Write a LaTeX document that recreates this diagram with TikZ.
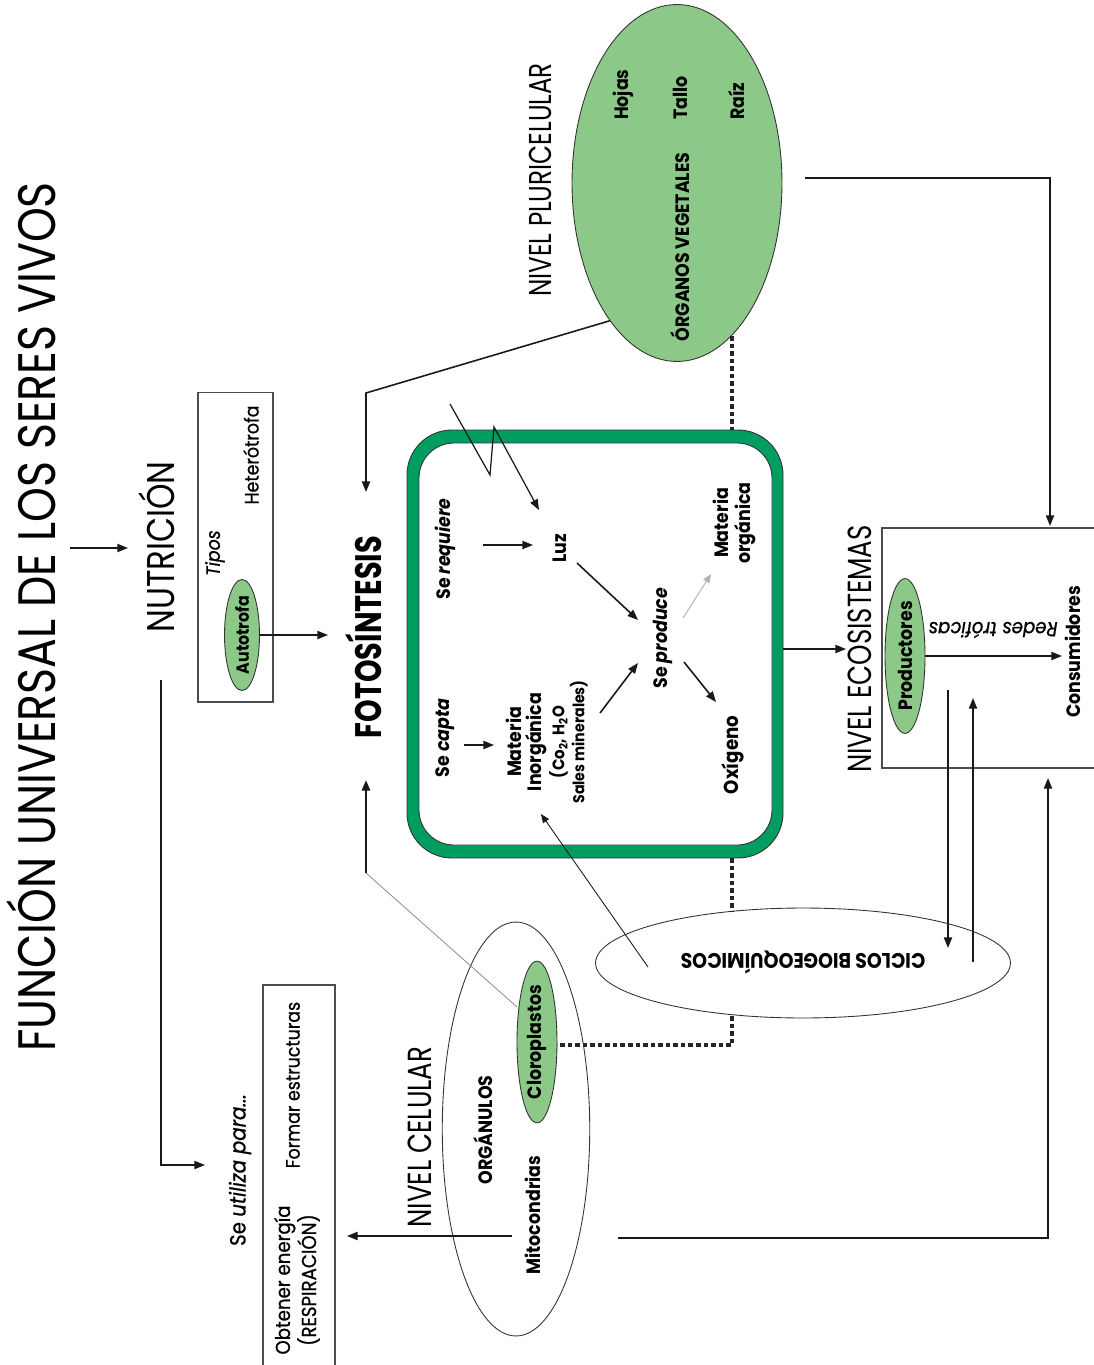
\documentclass[tikz,border=0pt]{standalone}
\usepackage{fontspec}
\setmainfont{Poppins}[FakeStretch=0.9]
\newfontfamily\medfont{Poppins}[FakeStretch=0.9, FakeBold=0.8]
\newfontfamily\headfont{Poppins}[FakeStretch=0.78]
\newfontfamily\titlefont{Poppins}[FakeStretch=0.84]
\usetikzlibrary{shapes.geometric,arrows.meta}
\definecolor{boxgreen}{RGB}{0,157,97}
\definecolor{lightgreen}{RGB}{140,201,136}
\tikzset{
  lbl/.style={rotate=90, inner sep=1pt, align=center, font=\bfseries\fontsize{11}{12.5}\selectfont},
  plain/.style={rotate=90, inner sep=1pt, align=center, font=\medfont\fontsize{11}{13}\selectfont},
  head/.style={rotate=90, inner sep=1pt, font=\headfont\fontsize{19}{22}\selectfont},
  arr/.style={-{Triangle[length=6pt,width=4.6pt]}, line width=0.9pt, draw=black!90},
  thinarr/.style={-{Triangle[length=5pt,width=4pt]}, line width=0.5pt, draw=black!90},
  dashline/.style={line width=2pt, draw=black!85, dash pattern=on 2.6pt off 1.7pt},
  frame/.style={draw=black!70, line width=0.6pt},
  greenell/.style={ellipse, draw=black!80, line width=0.5pt, fill=lightgreen, inner sep=0pt},
  whiteell/.style={ellipse, draw=black!80, line width=0.5pt, inner sep=0pt}
}
\begin{document}
\begin{tikzpicture}[x=0.02cm,y=-0.02cm]
\useasboundingbox (0,0) rectangle (1093,1365);

% title and nutrition
\node[rotate=90, inner sep=0pt, font=\titlefont\fontsize{30}{36}\selectfont] (title) at (31,617) {FUNCIÓN UNIVERSAL DE LOS SERES VIVOS};
\node[rotate=90, inner sep=1pt, font=\titlefont\fontsize{22}{26}\selectfont] (nutr) at (157,547) {NUTRICIÓN};
\coordinate (t1) at (70,548);
\coordinate (t2) at (128,548);
\draw[arr] (t1) -- (t2);

% tipos box
\node[frame, minimum width=1.5cm, minimum height=6.2cm] (tipos) at (235.5,547) {};
\node[rotate=90, inner sep=1pt, font=\medfont\itshape\fontsize{11}{12}\selectfont] (tiposlbl) at (215,553) {Tipos};
\node[plain] (hetero) at (251,455) {Heterótrofa};
\node[greenell, minimum width=0.7cm, minimum height=1.94cm] (auto) at (242,635) {\rotatebox{90}{\bfseries\fontsize{10}{12}\selectfont Autotrofa}};
\coordinate (a2) at (328,633);
\draw[arr] (auto.east) -- (auto.east -| a2);

% fotosintesis
\node[rotate=90, inner sep=0pt, font=\headfont\bfseries\fontsize{21}{24}\selectfont] (foto) at (364,637) {FOTOSÍNTESIS};
\coordinate (fa1) at (636,313);
\coordinate (fa2) at (366,393);
\coordinate (fa3) at (366,492);
\draw[arr] (fa1) -- (fa2) -- (fa3);
\coordinate (fb1) at (366,873);
\coordinate (fb2) at (366,780);
\draw[arr, line width=1.4pt] (fb1) -- (fb2);

% green box
\draw[fill=boxgreen, draw=black!80, line width=0.5pt, rounded corners=0.9cm] (407,430) rectangle (783,858);
\draw[fill=white, draw=black!80, line width=0.5pt, rounded corners=0.7cm] (419,443) rectangle (772,845);
\coordinate (gbR) at (783,649);

\node[lbl] (req) at (445,549) {Se \textit{requiere}};
\node[lbl] (luz) at (560,548) {Luz};
\node[lbl] (prod) at (663,638) {Se \textit{produce}};
\node[lbl] (morg) at (734,523) {Materia\\orgánica};
\node[lbl, font=\bfseries\fontsize{11.5}{13}\selectfont] (oxi) at (733,755) {Oxígeno};
\node[lbl] (capta) at (445,738) {Se \textit{capta}};
\node[lbl, font=\bfseries\fontsize{11}{11.5}\selectfont] (minorg) at (547,742) {Materia\\Inorgánica\\{\fontsize{9.5}{11}\selectfont(Co\textsubscript{2}, H\textsubscript{2}O}\\{\fontsize{9}{11}\selectfont Sales minerales)}};

\draw[arr] (483,545) -- (533,545);
\draw[arr] (577,563) -- (638,620);
\draw[-{Triangle[length=5pt,width=4pt]}, line width=0.5pt, draw=black!30, fill=black!30] (683,618) -- (711,574);
\draw[arr] (684,662) -- (716,702);
\draw[arr] (464,745) -- (494,745);
\draw[arr] (600,713) -- (638,663);
% lightning
\draw[arr, line width=0.7pt] (450,404) -- (490,475) -- (494,427) -- (539,510);

% pluricelular
\node[greenell, minimum width=4.2cm, minimum height=7.14cm] (pluri) at (677,183) {};
\node[head, font=\headfont\fontsize{18}{22}\selectfont] (npluri) at (540,180) {NIVEL PLURICELULAR};
\node[lbl, anchor=west] (hojas) at (623,122) {Hojas};
\node[lbl, anchor=west] (tallo) at (680,122) {Tallo};
\node[lbl, anchor=west] (raiz) at (737,122) {Raíz};
\node[lbl] (organos) at (680,247) {ÓRGANOS VEGETALES};
\coordinate (pl1) at (805,178);
\coordinate (pl2) at (1050,178);
\coordinate (pl3) at (1050,526);
\draw[arr] (pl1) -- (pl2) -- (pl3);

% ecosistemas
\node[head] (neco) at (860,649) {NIVEL ECOSISTEMAS};
\draw[arr] (gbR) -- (846,649);
\draw[frame] (1094,528) -- (882,528) -- (882,768) -- (1094,768);
\node[greenell, minimum width=0.8cm, minimum height=2.88cm] (produ) at (905,656) {\rotatebox{90}{\bfseries\fontsize{11}{12}\selectfont Productores}};
\node[lbl] (consu) at (1073,652) {Consumidores};
\node[rotate=180, inner sep=1pt, font=\medfont\itshape\fontsize{11.5}{12}\selectfont] (redes) at (993,630) {Redes tróficas};
\coordinate (pr2) at (1062,659);
\draw[arr] (produ.east) -- (produ.east -| pr2);
\draw[arr] (948,690) -- (948,948);
\draw[arr] (973,962) -- (973,698);

% ciclos
\node[whiteell, minimum width=8.3cm, minimum height=2.2cm] (ciclos) at (803,963) {};
\node[rotate=180, inner sep=1pt, font=\bfseries\fontsize{12}{13}\selectfont] (cicloslbl) at (803,963) {CICLOS BIOGEOQUÍMICOS};
\draw[thinarr] (648,967) -- (541,814);

% dashed
\draw[dashline] (732,336) -- (732,430);
\draw[dashline] (732,858) -- (732,911);
\draw[dashline] (732,1016) -- (732,1045) -- (557,1045);

% celular
\node[whiteell, minimum width=2.95cm, minimum height=8.28cm] (cel) at (516,1129) {};
\node[head] (ncel) at (420,1137) {NIVEL CELULAR};
\node[greenell, minimum width=0.8cm, minimum height=2.74cm] (clor) at (537,1042) {\rotatebox{90}{\bfseries\fontsize{11}{12}\selectfont Cloroplastos}};
\node[lbl] (organu) at (483,1130) {ORGÁNULOS};
\node[lbl] (mito) at (533,1215) {Mitocondrias};
\draw[line width=0.4pt, draw=black!50] (517,1007) -- (fb1);
\draw[arr] (512,1236) -- (347,1236);
\coordinate (m1) at (618,1238);
\coordinate (m2) at (1048,1238);
\coordinate (m3) at (1048,778);
\draw[arr] (m1) -- (m2) -- (m3);

% utiliza
\coordinate (n1) at (161,680);
\coordinate (n2) at (161,1165);
\coordinate (n3) at (205,1165);
\draw[arr] (n1) -- (n2) -- (n3);
\node[rotate=90, inner sep=1pt, font=\medfont\fontsize{12.5}{14}\selectfont] (utiliza) at (240,1170) {Se \textit{utiliza para...}};
\draw[frame] (263,1366) -- (263,985) -- (335,985) -- (335,1366);
\node[plain] (formar) at (293,1085) {Formar estructuras};
\node[plain, font=\medfont\fontsize{11.5}{13}\selectfont] (obtener) at (297,1280) {Obtener energía\\(RESPIRACIÓN)};
\end{tikzpicture}
\end{document}
